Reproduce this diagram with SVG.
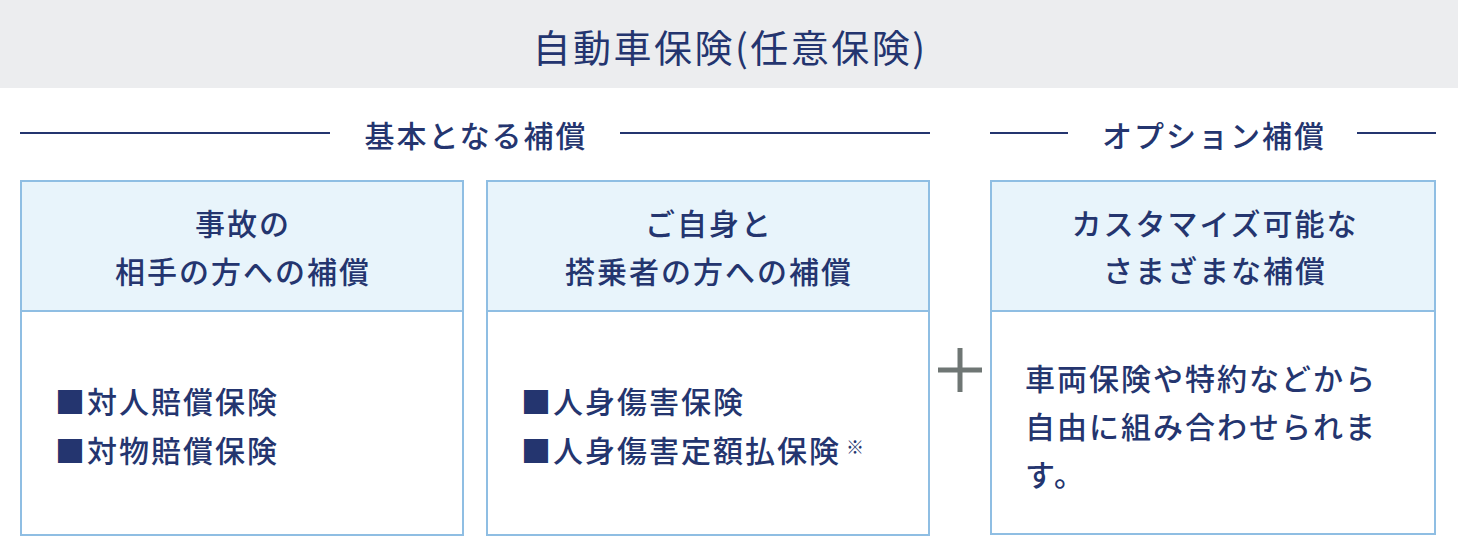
<svg xmlns="http://www.w3.org/2000/svg" width="1458" height="560" viewBox="0 0 1458 560">
<style>
text{font-family:"Noto Sans CJK JP","Noto Sans CJK SC",sans-serif;fill:#24356f;}
.title{font-size:38px;font-weight:400;text-anchor:middle;letter-spacing:2.5px;}
.sec{font-size:30px;font-weight:500;text-anchor:middle;letter-spacing:2px;}
.hd{font-size:30px;font-weight:500;text-anchor:middle;letter-spacing:2px;}
.bd{font-size:30px;font-weight:500;letter-spacing:2px;}
.note{font-size:18px;font-weight:500;}
.box{fill:#ffffff;stroke:#8fbee3;stroke-width:2;}
.head{fill:#e8f4fb;stroke:#8fbee3;stroke-width:2;}
.rule{stroke:#24356f;stroke-width:2;}
.plus{stroke:#6f7674;stroke-width:5;}
</style>
<rect x="0" y="0" width="1458" height="88" fill="#ecedef"/>
<g id="title"><text class="title" x="730" y="62">自動車保険(任意保険)</text></g>
<g id="section-basic">
<line class="rule" x1="20" y1="133" x2="330" y2="133"/>
<line class="rule" x1="620" y1="133" x2="930" y2="133"/>
<text class="sec" x="476" y="147">基本となる補償</text>
</g>
<g id="section-option">
<line class="rule" x1="990" y1="133" x2="1068" y2="133"/>
<line class="rule" x1="1357" y1="133" x2="1436" y2="133"/>
<text class="sec" x="1214" y="147">オプション補償</text>
</g>
<g id="node-aitekata">
<rect class="box" x="21" y="181" width="442" height="354"/>
<rect class="head" x="21" y="181" width="442" height="130"/>
<text class="hd" x="243" y="235">事故の</text>
<text class="hd" x="243" y="283">相手の方への補償</text>
<text class="bd" x="55" y="413">■対人賠償保険</text>
<text class="bd" x="55" y="462">■対物賠償保険</text>
</g>
<g id="node-jishin">
<rect class="box" x="487" y="181" width="442" height="354"/>
<rect class="head" x="487" y="181" width="442" height="130"/>
<text class="hd" x="709" y="235">ご自身と</text>
<text class="hd" x="709" y="283">搭乗者の方への補償</text>
<text class="bd" x="521" y="413">■人身傷害保険</text>
<text class="bd" x="521" y="462">■人身傷害定額払保険</text>
<text class="note" x="846" y="454">※</text>
</g>
<g id="connectors">
<line class="plus" x1="938" y1="370" x2="982" y2="370"/>
<line class="plus" x1="960" y1="348" x2="960" y2="392"/>
</g>
<g id="node-option">
<rect class="box" x="991" y="181" width="444" height="353"/>
<rect class="head" x="991" y="181" width="444" height="130"/>
<text class="hd" x="1215" y="235">カスタマイズ可能な</text>
<text class="hd" x="1215" y="282">さまざまな補償</text>
<text class="bd" x="1025" y="390">車両保険や特約などから</text>
<text class="bd" x="1025" y="438">自由に組み合わせられま</text>
<text class="bd" x="1025" y="486">す。</text>
</g>
</svg>
